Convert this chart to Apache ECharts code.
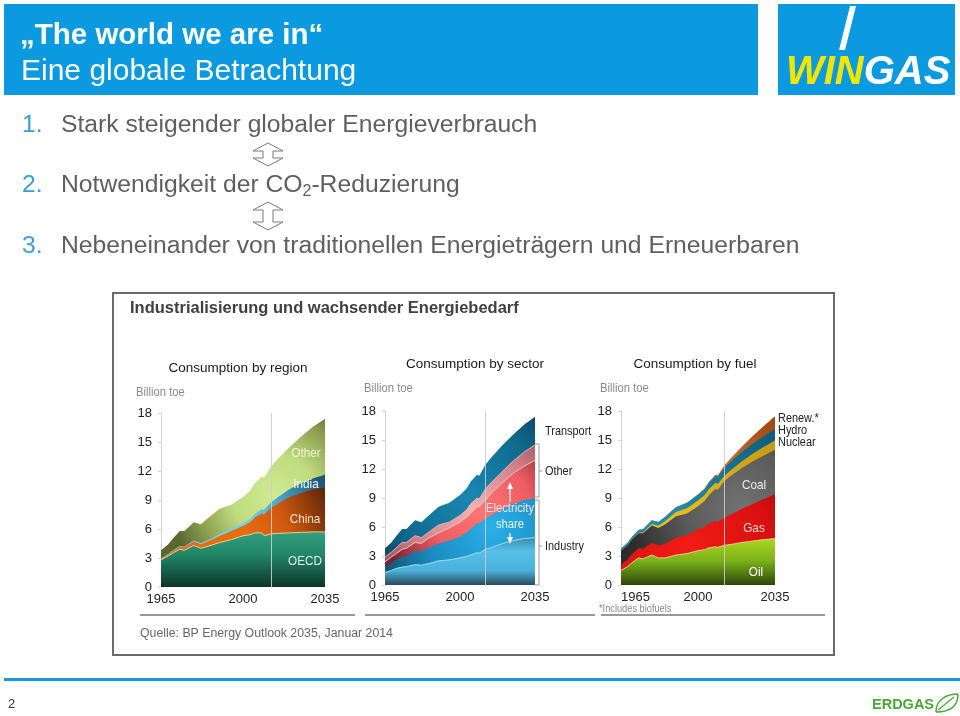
<!DOCTYPE html>
<html><head><meta charset="utf-8">
<script src="https://cdn.jsdelivr.net/npm/echarts@6/dist/echarts.min.js"></script>
<style>html,body{margin:0;padding:0;background:#fff}#c{width:960px;height:716px}</style>
</head><body><div id="c"></div>
<script>
// ---------- data (Billion toe) ----------
const years = [1965,1968,1970,1973,1975,1979,1982,1985,1990,1995,2000,2003,2005,2008,2009,2012,2015,2020,2025,2030,2035];
const xTickValues = [1965,2000,2035];
const baseYear = 2012;

// Consumption by region (layer values, bottom -> top)
const regionOECD  = [2.8,3.2,3.5,3.9,3.8,4.3,4.0,4.2,4.6,4.9,5.3,5.4,5.6,5.6,5.3,5.5,5.55,5.6,5.65,5.7,5.7];
const regionChina = [0.13,0.15,0.2,0.26,0.3,0.4,0.42,0.5,0.68,0.9,1.0,1.3,1.6,2.0,2.2,2.7,3.1,3.7,4.1,4.4,4.6];
const regionIndia = [0.05,0.06,0.07,0.08,0.09,0.1,0.12,0.14,0.19,0.24,0.3,0.33,0.36,0.44,0.48,0.56,0.65,0.85,1.0,1.15,1.3];
const regionOther = [0.82,0.99,1.23,1.56,1.61,1.9,1.96,2.26,2.63,2.46,2.7,2.92,3.14,3.36,3.32,3.74,4.0,4.35,4.85,5.35,5.8];

// Consumption by sector
const sectorIndustryDirect = [1.3,1.5,1.7,1.85,1.9,2.1,2.05,2.2,2.5,2.6,2.8,2.95,3.1,3.35,3.3,3.7,3.9,4.3,4.6,4.8,4.9];
const sectorIndustryPower  = [0.6,0.8,0.9,1.05,1.1,1.4,1.45,1.6,1.8,2.0,2.2,2.45,2.7,3.05,3.1,3.2,3.4,3.6,3.8,4.0,4.1];
const sectorOtherPower     = [0.5,0.6,0.6,0.8,0.8,0.9,0.8,1.0,1.1,1.3,1.5,1.6,1.6,1.7,1.7,1.9,2.3,2.7,3.2,3.5,3.9];
const sectorOtherDirect    = [0.5,0.5,0.6,0.7,0.6,0.7,0.6,0.6,0.8,0.6,0.7,0.75,1.0,0.9,0.8,1.2,1.1,1.2,1.25,1.45,1.6];
const sectorTransport      = [0.9,1.0,1.2,1.4,1.4,1.6,1.6,1.7,1.9,2.0,2.1,2.2,2.3,2.4,2.4,2.5,2.6,2.7,2.75,2.85,2.9];

// Consumption by fuel
const fuelOil     = [1.5,1.9,2.3,2.8,2.7,3.1,2.8,2.8,3.1,3.25,3.55,3.65,3.85,3.95,3.9,4.1,4.2,4.4,4.55,4.7,4.8];
const fuelGas     = [0.6,0.75,0.9,1.0,1.05,1.25,1.3,1.45,1.8,1.9,2.2,2.35,2.5,2.7,2.65,2.85,3.1,3.5,3.85,4.2,4.6];
const fuelCoal    = [1.45,1.45,1.5,1.55,1.6,1.8,1.8,2.0,2.2,2.25,2.4,2.7,2.95,3.3,3.3,3.8,4.0,4.2,4.4,4.5,4.6];
const fuelNuclear = [0.01,0.02,0.02,0.05,0.09,0.16,0.22,0.34,0.45,0.53,0.58,0.6,0.63,0.62,0.61,0.56,0.6,0.7,0.8,0.9,0.95];
const fuelHydro   = [0.21,0.24,0.27,0.3,0.33,0.38,0.4,0.44,0.49,0.56,0.6,0.6,0.66,0.72,0.74,0.83,0.9,0.98,1.05,1.12,1.2];
const fuelRenew   = [0.01,0.01,0.01,0.01,0.02,0.02,0.02,0.03,0.03,0.04,0.05,0.07,0.09,0.13,0.15,0.24,0.35,0.55,0.8,1.05,1.3];

// ---------- layout ----------
const G = [
  {l:161, t:413, w:164, h:174},
  {l:385, t:411, w:150, h:174},
  {l:621, t:411, w:154, h:174}
];
const FONT = "'Liberation Sans', Arial, sans-serif";
const px = (i, yr) => G[i].l + (yr - 1965) / 70 * G[i].w;
const py = (i, v) => G[i].t + G[i].h - v / 18 * G[i].h;
const stopsOf = s => s.map(a => ({offset:a[0], color:a[1]}));
const lin = (i, a, b, s) => ({type:'linear', global:true, x:px(i,a[0]), y:py(i,a[1]), x2:px(i,b[0]), y2:py(i,b[1]), colorStops:stopsOf(s)});
const rad = (i, c, r, s) => ({type:'radial', global:true, x:px(i,c[0]), y:py(i,c[1]), r:r, colorStops:stopsOf(s)});

// build stacked layers (cumulative tops), drawn top layer first
function layers(i, defs) {
  let cum = years.map(() => 0);
  const out = [];
  defs.forEach(d => {
    cum = cum.map((c, j) => c + d.values[j]);
    out.push({
      type:'line', name:d.name, xAxisIndex:i, yAxisIndex:i, silent:true, animation:false,
      symbol:'none', showSymbol:false, smooth:false,
      data: years.map((y, j) => [y, +cum[j].toFixed(3)]),
      lineStyle: d.line ? {width:1, color:d.line} : {width:0, opacity:0},
      areaStyle: {color:d.fill, opacity:1},
      z: 2
    });
  });
  out.reverse();
  out[out.length-1].markLine = {
    silent:true, symbol:'none', animation:false, label:{show:false},
    lineStyle:{color:'rgba(205,205,205,0.9)', width:1, type:'solid'},
    data:[{xAxis: baseYear}]
  };
  return out;
}

const series = [].concat(
  layers(0, [
    {name:'OECD', values:regionOECD, line:'#e8cfa0',
     fill: lin(0,[2000,6],[2000,0],[[0,'#33a47f'],[0.45,'#218566'],[1,'#0b3628']])},
    {name:'China', values:regionChina,
     fill: lin(0,[2000,6.5],[2035,10.6],[[0,'#e66c0e'],[0.45,'#cc5810'],[1,'#5a2206']])},
    {name:'India', values:regionIndia,
     fill: lin(0,[2003,7],[2030,11.8],[[0,'#74cfe8'],[0.45,'#4aa5c8'],[1,'#20587a']])},
    {name:'Other', values:regionOther,
     fill: rad(0,[2013,9.5],104,[[0,'#d0ea92'],[0.4,'#bfdc7e'],[0.72,'#8fa352'],[1,'#5a6830']])}
  ]),
  layers(1, [
    {name:'Industry', values:sectorIndustryDirect, line:'#a4dcf0',
     fill: lin(1,[2000,5],[2000,0],[[0,'#3a86a8'],[0.3,'#57c0e8'],[0.7,'#4ab2da'],[1,'#2b4a5a']])},
    {name:'Industry power', values:sectorIndustryPower,
     fill: rad(1,[2015,6],110,[[0,'#2ab0e8'],[0.6,'#1a8cc2'],[1,'#14597a']])},
    {name:'Other power', values:sectorOtherPower, line:'#f6c4c4',
     fill: rad(1,[2010,7.5],100,[[0,'#ff7474'],[0.5,'#ef5e62'],[1,'#7a2232']])},
    {name:'Other', values:sectorOtherDirect, line:'#eab0b0',
     fill: rad(1,[2005,8],110,[[0,'#f2b2b2'],[0.55,'#d28088'],[1,'#934a56']])},
    {name:'Transport', values:sectorTransport,
     fill: rad(1,[2005,9],120,[[0,'#1a88b2'],[0.6,'#0f6a8e'],[1,'#083a52']])}
  ]),
  layers(2, [
    {name:'Oil', values:fuelOil, line:'#f0c890',
     fill: lin(2,[2000,4.6],[2000,0],[[0,'#a8d41e'],[0.45,'#7cb21a'],[1,'#2c470a']])},
    {name:'Gas', values:fuelGas,
     fill: rad(2,[1995,4],140,[[0,'#f21c14'],[0.6,'#d81010'],[1,'#780808']])},
    {name:'Coal', values:fuelCoal,
     fill: rad(2,[2020,8],115,[[0,'#727272'],[0.5,'#5a5a5a'],[1,'#2c2c2c']])},
    {name:'Nuclear', values:fuelNuclear,
     fill: lin(2,[1990,8],[2035,15],[[0,'#e8bc20'],[1,'#c89a12']])},
    {name:'Hydro', values:fuelHydro,
     fill: lin(2,[1990,8],[2035,16],[[0,'#1f8ab0'],[1,'#0d5c7c']])},
    {name:'Renew.', values:fuelRenew,
     fill: lin(2,[2010,12],[2035,17.5],[[0,'#d0702a'],[1,'#9a4612']])}
  ])
);

const xAxes = G.map((g, i) => ({
  gridIndex:i, type:'value', min:1965, max:2035,
  axisLine:{show:false}, axisTick:{show:false}, splitLine:{show:false},
  axisLabel:{customValues:xTickValues, color:'#222', fontSize:13, fontFamily:FONT, margin:6,
    alignMinLabel: i === 2 ? 'left' : 'center', formatter: v => String(v)}
}));
const yAxes = G.map((g, i) => ({
  gridIndex:i, type:'value', min:0, max:18, interval:3,
  axisLine:{show:true, lineStyle:{color:'#d4d4d4', width:1}},
  axisTick:{show:true, length:3, lineStyle:{color:'#d4d4d4'}},
  splitLine:{show:false},
  axisLabel:{color:'#222', fontSize:13, fontFamily:FONT, margin:9}
}));

// ---------- slide graphics ----------
const T = (x, y, text, o, sx) => Object.assign({type:'text', x, y, z:100, silent:true, scaleX: sx || 1,
  style:Object.assign({text, fill:'#222', fontSize:13, fontFamily:FONT, align:'left', verticalAlign:'middle'}, o || {})});
const Z = el => Object.assign({z:100, silent:true}, el);
function dblArrow(cx, y0, y1) {
  const hw = 15, sw = 5, hh = 8;
  return Z({type:'polygon', shape:{points:[
    [cx,y0],[cx+hw,y0+hh],[cx+sw,y0+hh],[cx+sw,y1-hh],[cx+hw,y1-hh],[cx,y1],
    [cx-hw,y1-hh],[cx-sw,y1-hh],[cx-sw,y0+hh],[cx-hw,y0+hh]]},
    style:{fill:'#fff', stroke:'#7a7a7a', lineWidth:1}});
}
const blue = '#0b9ae0';
const gray = '#5f5f5f';
const numBlue = '#3a9fdc';
const LF = 24.7;
const leafGreen = '#4aa838';
const N = 0.84;   // condensed look for chart annotations
const graphics = [
  Z({type:'rect', shape:{x:4,y:4,width:754,height:91}, style:{fill:blue}}),
  Z({type:'rect', shape:{x:778,y:4,width:177,height:91}, style:{fill:blue}}),
  Z({type:'polygon', shape:{points:[[850,6],[856,6],[845,50],[839,50]]}, style:{fill:'#fff'}}),
  T(786, 73, '{y|WIN}{w|GAS}', {rich:{
    y:{fill:'#f2e600', fontSize:40, fontWeight:'bold', fontStyle:'italic', fontFamily:FONT},
    w:{fill:'#ffffff', fontSize:40, fontWeight:'bold', fontStyle:'italic', fontFamily:FONT}}}),
  T(20, 36, '„The world we are in“', {fill:'#fff', fontSize:29.5, fontWeight:'bold'}),
  T(21, 72, 'Eine globale Betrachtung', {fill:'#fff', fontSize:30}),
  T(22, 125, '1.', {fill:numBlue, fontSize:LF}),
  T(61, 125, 'Stark steigender globaler Energieverbrauch', {fill:gray, fontSize:LF}),
  T(22, 185, '2.', {fill:numBlue, fontSize:LF}),
  T(61, 185, '{a|Notwendigkeit der CO}{s|2}{a|-Reduzierung}', {rich:{
    a:{fill:gray, fontSize:LF, fontFamily:FONT},
    s:{fill:gray, fontSize:16, fontFamily:FONT, padding:[14,0,0,0]}}}),
  T(22, 246, '3.', {fill:numBlue, fontSize:LF}),
  T(61, 246, 'Nebeneinander von traditionellen Energieträgern und Erneuerbaren', {fill:gray, fontSize:LF}),
  dblArrow(268, 143, 166),
  dblArrow(268, 202, 230),
  Z({type:'rect', shape:{x:113,y:293,width:721,height:362}, style:{fill:null, stroke:'#6a6a6a', lineWidth:2}}),
  T(130, 308, 'Industrialisierung und wachsender Energiebedarf', {fill:'#404040', fontSize:16.5, fontWeight:'bold'}),
  T(140, 634, 'Quelle: BP Energy Outlook 2035, Januar 2014', {fill:'#666', fontSize:12.3}),
  Z({type:'rect', shape:{x:4,y:678,width:956,height:3}, style:{fill:'#1a9ad6'}}),
  T(8, 704, '2', {fill:'#333', fontSize:13}),
  T(872, 705, 'ERDGAS', {fill:leafGreen, fontSize:14.5, fontWeight:'bold'}),
  Z({type:'bezierCurve', shape:{x1:936,y1:712,x2:958,y2:694,cpx1:936,cpy1:700,cpx2:946,cpy2:694}, style:{stroke:leafGreen, lineWidth:1.5, fill:null}}),
  Z({type:'bezierCurve', shape:{x1:936,y1:712,x2:958,y2:694,cpx1:950,cpy1:712,cpx2:958,cpy2:706}, style:{stroke:leafGreen, lineWidth:1.5, fill:null}}),
  Z({type:'line', shape:{x1:938,y1:710,x2:954,y2:697}, style:{stroke:leafGreen, lineWidth:1.2}}),
  // separator lines under charts
  Z({type:'line', shape:{x1:140,y1:615,x2:355,y2:615}, style:{stroke:'#333', lineWidth:1}}),
  Z({type:'line', shape:{x1:365,y1:615,x2:595,y2:615}, style:{stroke:'#333', lineWidth:1}}),
  Z({type:'line', shape:{x1:601,y1:615,x2:825,y2:615}, style:{stroke:'#333', lineWidth:1}}),
  // chart 1 texts
  T(238, 368, 'Consumption by region', {align:'center', fontSize:13.5, fill:'#1a1a1a'}),
  T(136, 393, 'Billion toe', {fill:'#8a8a8a', fontSize:12.5}, 0.9),
  T(306, 453, 'Other', {align:'center', fill:'#eef7d4'}, 0.9),
  T(306, 484, 'India', {align:'center', fill:'#f4f4f4'}, 0.9),
  T(305, 519, 'China', {align:'center', fill:'#fde2c6'}, 0.9),
  T(305, 561, 'OECD', {align:'center', fill:'#dcf0e6'}, 0.9),
  // chart 2 texts
  T(475, 364, 'Consumption by sector', {align:'center', fontSize:13.5, fill:'#1a1a1a'}),
  T(364, 389, 'Billion toe', {fill:'#8a8a8a', fontSize:12.5}, 0.9),
  T(545, 431, 'Transport', {}, N),
  T(545, 471, 'Other', {}, N),
  T(545, 546, 'Industry', {}, N),
  Z({type:'polyline', shape:{points:[[535,444],[539,444],[539,497],[535,497]]}, style:{stroke:'#999', lineWidth:1, fill:null}}),
  Z({type:'line', shape:{x1:539,y1:471,x2:542,y2:471}, style:{stroke:'#999', lineWidth:1}}),
  Z({type:'polyline', shape:{points:[[535,500],[539,500],[539,585],[535,585]]}, style:{stroke:'#999', lineWidth:1, fill:null}}),
  Z({type:'line', shape:{x1:539,y1:546,x2:542,y2:546}, style:{stroke:'#999', lineWidth:1}}),
  T(510, 509, 'Electricity', {align:'center', fill:'#f6e6e6', fontSize:12.5}, 0.9),
  T(510, 525, 'share', {align:'center', fill:'#eef6fa', fontSize:12.5}, 0.9),
  Z({type:'line', shape:{x1:510,y1:487,x2:510,y2:502}, style:{stroke:'#fff', lineWidth:1.2}}),
  Z({type:'polygon', shape:{points:[[510,482],[513,489],[507,489]]}, style:{fill:'#fff'}}),
  Z({type:'line', shape:{x1:510,y1:533,x2:510,y2:539}, style:{stroke:'#fff', lineWidth:1.2}}),
  Z({type:'polygon', shape:{points:[[510,544],[513,537],[507,537]]}, style:{fill:'#fff'}}),
  // chart 3 texts
  T(695, 364, 'Consumption by fuel', {align:'center', fontSize:13.5, fill:'#1a1a1a'}),
  T(600, 389, 'Billion toe', {fill:'#8a8a8a', fontSize:12.5}, 0.9),
  T(778, 418, 'Renew.*', {}, N),
  T(778, 430, 'Hydro', {}, N),
  T(778, 442, 'Nuclear', {}, N),
  T(754, 485, 'Coal', {align:'center', fill:'#ececec'}, 0.9),
  T(754, 528, 'Gas', {align:'center', fill:'#fcd6d6'}, 0.9),
  T(756, 572, 'Oil', {align:'center', fill:'#ffffff'}, 0.9),
  T(599, 609, '*Includes biofuels', {fill:'#888', fontSize:10.5}, 0.88)
];

const chart = echarts.init(document.getElementById('c'), null, {renderer:'canvas', width:960, height:716});
chart.setOption({
  animation:false,
  backgroundColor:'#ffffff',
  grid: G.map(g => ({left:g.l, top:g.t, width:g.w, height:g.h, containLabel:false})),
  xAxis: xAxes,
  yAxis: yAxes,
  series: series,
  graphic: {elements: graphics}
});
</script>
</body></html>
